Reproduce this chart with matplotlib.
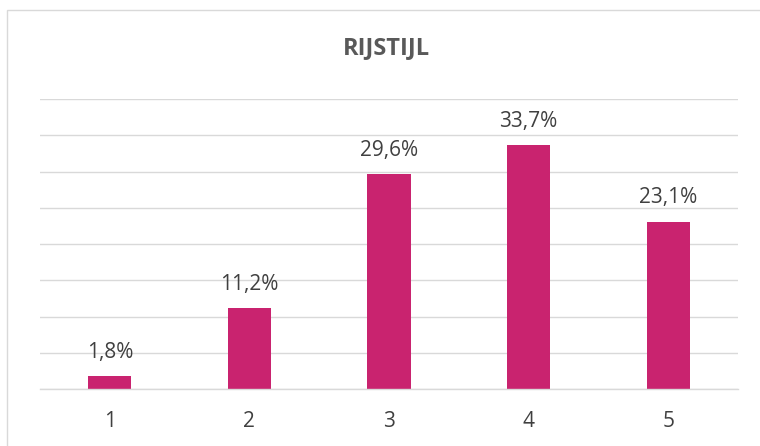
import matplotlib.pyplot as plt
from matplotlib.patches import Rectangle

plt.rcParams["font.family"] = ["Open Sans", "DejaVu Sans"]

categories = ["1", "2", "3", "4", "5"]
values = [1.8, 11.2, 29.6, 33.7, 23.1]
labels = ["1,8%", "11,2%", "29,6%", "33,7%", "23,1%"]

BAR = "#c9236f"
GRID = "#d9d9d9"
TXT = "#404040"

fig = plt.figure(figsize=(7.6, 4.46), dpi=100)
ax = fig.add_axes([40 / 760, 1 - 389 / 446, 698 / 760, 290 / 446])

x = range(len(categories))
ax.bar(x, values, width=0.31, color=BAR, zorder=3)
for xi, v, lab in zip(x, values, labels):
    ax.text(xi, v + 2.5, lab, ha="center", va="baseline", fontsize=15, color=TXT)

ax.set_xlim(-0.5, 4.5)
ax.set_ylim(0, 40)
ax.set_yticks(range(0, 41, 5))
ax.yaxis.grid(True, color=GRID, lw=1.0, zorder=0)
ax.axhline(0, color=GRID, lw=1.0, zorder=4, clip_on=False)
ax.tick_params(axis="y", left=False, labelleft=False)
ax.set_xticks(list(x))
ax.set_xticklabels(categories, fontsize=15, color=TXT)
ax.tick_params(axis="x", bottom=False, pad=12)
for s in ax.spines.values():
    s.set_visible(False)

fig.text(386 / 760, 1 - 48 / 446, "RIJSTIJL", ha="center", va="center",
         fontsize=17, fontweight="bold", color="#595959")

# outer chart frame (runs off the right/bottom edge)
fig.patches.append(Rectangle((7 / 760, -0.1), 1.2, 1 - 10 / 446 + 0.1,
                             transform=fig.transFigure, fill=False,
                             edgecolor="#d9d9d9", lw=1.0))

fig.savefig("out.png", dpi=100)
